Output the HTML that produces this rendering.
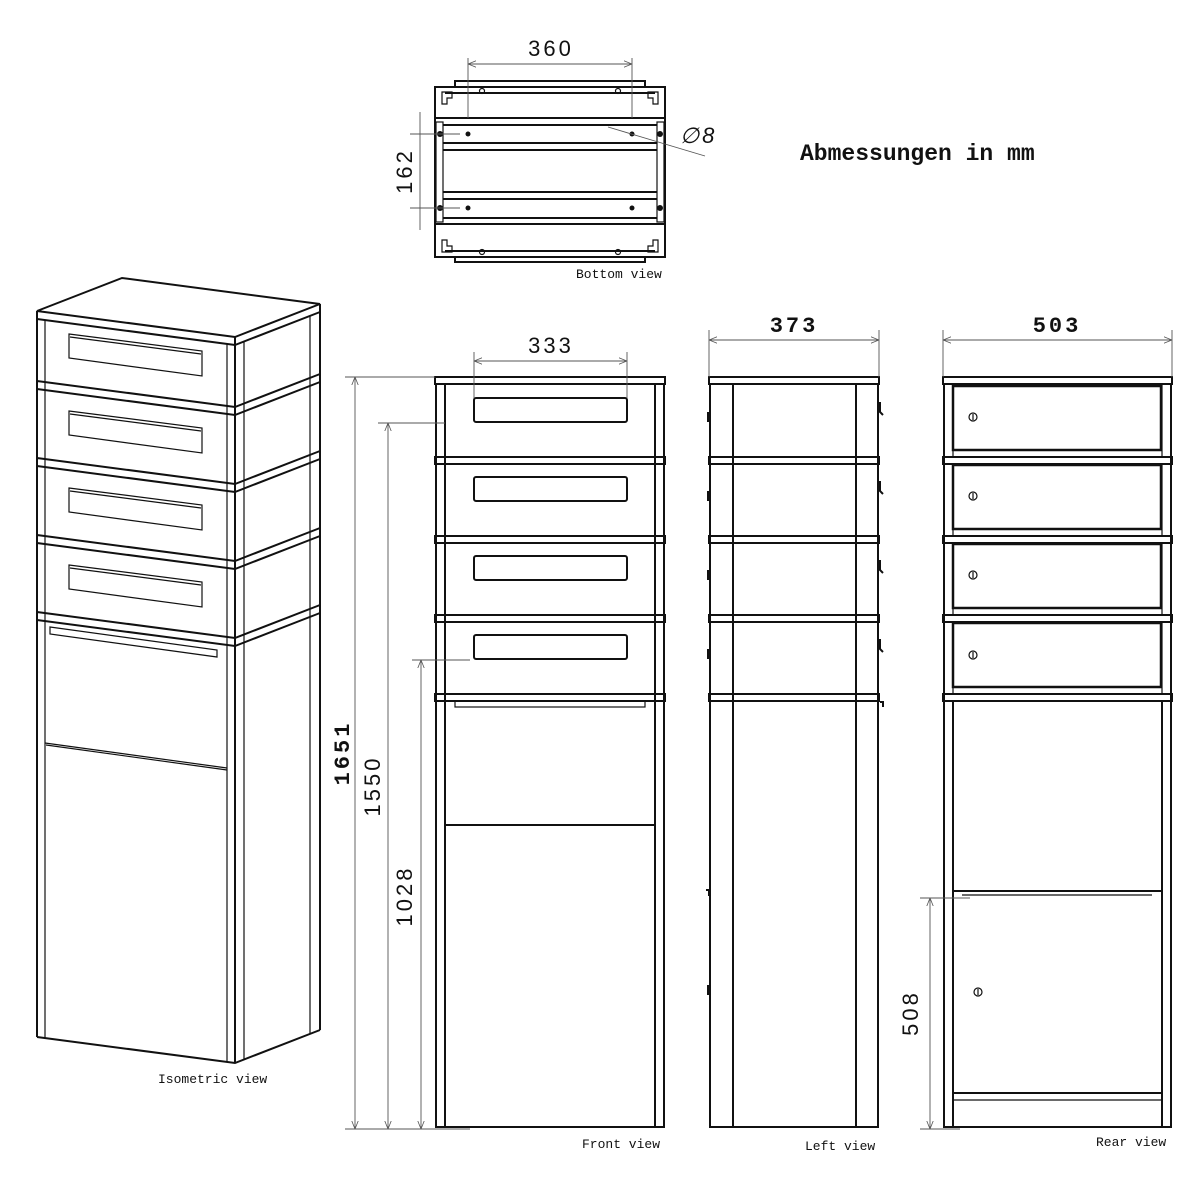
<!DOCTYPE html>
<html><head><meta charset="utf-8"><style>
html,body{margin:0;padding:0;background:#fff}
svg{display:block}
.m{fill:none;stroke:#111;stroke-width:2}
.t{fill:none;stroke:#111;stroke-width:1.2}
.d{fill:none;stroke:#555;stroke-width:0.9}
.num{font-family:"Liberation Sans",sans-serif;font-size:22px;letter-spacing:3px;fill:#111}
.b{font-weight:bold;font-family:"Liberation Mono",monospace}
.lab{font-family:"Liberation Mono",monospace;font-size:13px;fill:#111}
</style></head><body>
<svg width="1200" height="1200" viewBox="0 0 1200 1200" xmlns="http://www.w3.org/2000/svg">
<defs>
<marker id="a" viewBox="0 0 10 10" refX="10" refY="5" markerWidth="9" markerHeight="9" orient="auto-start-reverse"><path d="M0,1 L10,5 L0,9" fill="none" stroke="#555" stroke-width="1"/></marker>
</defs>

<!-- ===== Bottom view ===== -->
<rect class="m" x="435" y="87" width="230" height="170"/>
<rect class="m" x="455" y="81" width="190" height="6"/>
<rect class="m" x="455" y="257" width="190" height="5"/>
<line class="m" x1="445" y1="93" x2="655" y2="93"/>
<line class="m" x1="445" y1="251" x2="655" y2="251"/>
<line class="m" x1="435" y1="118" x2="665" y2="118"/>
<line class="m" x1="443" y1="125" x2="657" y2="125"/>
<line class="m" x1="443" y1="143" x2="657" y2="143"/>
<line class="m" x1="443" y1="150" x2="657" y2="150"/>
<line class="m" x1="443" y1="192" x2="657" y2="192"/>
<line class="m" x1="443" y1="199" x2="657" y2="199"/>
<line class="m" x1="443" y1="218" x2="657" y2="218"/>
<line class="m" x1="435" y1="224" x2="665" y2="224"/>
<rect class="t" x="436" y="122" width="7" height="100"/>
<rect class="t" x="657" y="122" width="7" height="100"/>
<g fill="#111">
<circle cx="468" cy="134" r="2.5"/><circle cx="632" cy="134" r="2.5"/>
<circle cx="468" cy="208" r="2.5"/><circle cx="632" cy="208" r="2.5"/>
<circle cx="440" cy="134" r="3"/><circle cx="660" cy="134" r="3"/>
<circle cx="440" cy="208" r="3"/><circle cx="660" cy="208" r="3"/>
</g>
<g class="t"><circle cx="482" cy="91" r="2.5"/><circle cx="618" cy="91" r="2.5"/><circle cx="482" cy="252" r="2.5"/><circle cx="618" cy="252" r="2.5"/>
<path d="M442,92 h10 v6 h-5 v6 h-5z M658,92 h-10 v6 h5 v6 h5z M442,252 h10 v-6 h-5 v-6 h-5z M658,252 h-10 v-6 h5 v-6 h5z"/></g>
<line class="d" x1="468" y1="64" x2="632" y2="64" marker-start="url(#a)" marker-end="url(#a)"/>
<line class="d" x1="468" y1="58" x2="468" y2="118"/>
<line class="d" x1="632" y1="58" x2="632" y2="118"/>
<text class="num" x="551" y="56" text-anchor="middle">360</text>
<line class="d" x1="420" y1="112" x2="420" y2="230"/>
<line class="d" x1="410" y1="134" x2="460" y2="134"/>
<line class="d" x1="410" y1="208" x2="460" y2="208"/>
<text class="num" transform="translate(412,171) rotate(-90)" text-anchor="middle">162</text>
<line class="d" x1="608" y1="127" x2="705" y2="156"/>
<text class="num" x="680" y="143" font-style="italic" letter-spacing="2">∅8</text>
<text class="lab" x="576" y="278">Bottom view</text>
<text class="b" x="800" y="160" font-size="23" fill="#111">Abmessungen in mm</text>

<!-- ===== Isometric view ===== -->
<g class="m">
<path d="M37,311 L235,337 L320,304 L122,278 Z"/>
<path d="M37,311 V319 L235,345 L320,312 V304 M235,337 V345"/>
<path d="M37,381 L235,407 L320,374 M37,389 L235,415 L320,382 M37,381 V389 M320,374 V382"/>
<path d="M37,458 L235,484 L320,451 M37,466 L235,492 L320,459 M37,458 V466 M320,451 V459"/>
<path d="M37,535 L235,561 L320,528 M37,543 L235,569 L320,536 M37,535 V543 M320,528 V536"/>
<path d="M37,612 L235,638 L320,605 M37,620 L235,646 L320,613 M37,612 V620 M320,605 V613"/>
<path d="M37,319 V1037 M235,345 V1063 M320,312 V1030 M37,1037 L235,1063 L320,1030"/>
</g>
<g class="t">
<path d="M45,320 V1038 M227,344 V1062 M244,342 V1060 M310,316 V1034"/>
<path d="M69,334 L202,351 V376 L69,358 Z M70,337 L201,354"/>
<path d="M69,411 L202,428 V453 L69,435 Z M70,414 L201,431"/>
<path d="M69,488 L202,505 V530 L69,512 Z M70,491 L201,508"/>
<path d="M69,565 L202,582 V607 L69,589 Z M70,568 L201,585"/>
<path d="M50,627 L217,650 V657 L50,634 Z"/>
<path d="M45,743 L227,768"/>
<path d="M46,745 L227,770"/>
</g>
<text class="lab" x="158" y="1083">Isometric view</text>

<!-- ===== Front view ===== -->
<g class="m">
<rect x="435" y="377" width="230" height="7"/>
<rect x="435" y="457" width="230" height="7"/>
<rect x="435" y="536" width="230" height="7"/>
<rect x="435" y="615" width="230" height="7"/>
<rect x="435" y="694" width="230" height="7"/>
<path d="M436,384 V1127 H664 V384 M445,384 V1127 M655,384 V1127"/>
<rect x="474" y="398" width="153" height="24" rx="2"/>
<rect x="474" y="477" width="153" height="24" rx="2"/>
<rect x="474" y="556" width="153" height="24" rx="2"/>
<rect x="474" y="635" width="153" height="24" rx="2"/>
<rect x="445" y="701" width="210" height="124"/>
</g>
<rect class="t" x="455" y="701" width="190" height="6"/>
<line class="d" x1="474" y1="352" x2="474" y2="398"/>
<line class="d" x1="627" y1="352" x2="627" y2="398"/>
<line class="d" x1="474" y1="361" x2="627" y2="361" marker-start="url(#a)" marker-end="url(#a)"/>
<text class="num" x="551" y="353" text-anchor="middle">333</text>
<text class="lab" x="582" y="1148">Front view</text>

<!-- dims left -->
<line class="d" x1="345" y1="377" x2="435" y2="377"/>
<line class="d" x1="378" y1="423" x2="445" y2="423"/>
<line class="d" x1="412" y1="660" x2="470" y2="660"/>
<line class="d" x1="345" y1="1129" x2="470" y2="1129"/>
<line class="d" x1="355" y1="377" x2="355" y2="1129" marker-start="url(#a)" marker-end="url(#a)"/>
<line class="d" x1="388" y1="423" x2="388" y2="1129" marker-start="url(#a)" marker-end="url(#a)"/>
<line class="d" x1="421" y1="660" x2="421" y2="1129" marker-start="url(#a)" marker-end="url(#a)"/>
<text class="num b" transform="translate(349,753) rotate(-90)" text-anchor="middle" font-size="22">1651</text>
<text class="num" transform="translate(380,786) rotate(-90)" text-anchor="middle">1550</text>
<text class="num" transform="translate(412,896) rotate(-90)" text-anchor="middle">1028</text>

<!-- ===== Left view ===== -->
<g class="m">
<rect x="709" y="377" width="170" height="7"/>
<rect x="709" y="457" width="170" height="7"/>
<rect x="709" y="536" width="170" height="7"/>
<rect x="709" y="615" width="170" height="7"/>
<rect x="709" y="694" width="170" height="7"/>
<path d="M710,384 V1127 H878 V384 M733,384 V1127 M856,384 V1127"/>
<path d="M708,412 v10 M708,491 v10 M708,570 v10 M708,649 v10 M708,985 v10 M706,890 h3 v6"/>
<path d="M880,402 v10 l3,3 M880,481 v10 l3,3 M880,560 v10 l3,3 M880,639 v10 l3,3 M880,702 h3 v5"/>
</g>
<line class="d" x1="709" y1="330" x2="709" y2="377"/>
<line class="d" x1="879" y1="330" x2="879" y2="377"/>
<line class="d" x1="709" y1="340" x2="879" y2="340" marker-start="url(#a)" marker-end="url(#a)"/>
<text class="num b" x="794" y="332" text-anchor="middle" font-size="22">373</text>
<text class="lab" x="805" y="1150">Left view</text>

<!-- ===== Rear view ===== -->
<g class="m">
<rect x="943" y="377" width="229" height="7"/>
<rect x="943" y="457" width="229" height="7"/>
<rect x="943" y="536" width="229" height="7"/>
<rect x="943" y="615" width="229" height="7"/>
<rect x="943" y="694" width="229" height="7"/>
<path d="M944,384 V1127 H1171 V384"/>
<path d="M953,701 V1127 M1162,701 V1127"/>
<rect x="953" y="386" width="208" height="64" stroke-width="2.5"/>
<rect x="953" y="465" width="208" height="64" stroke-width="2.5"/>
<rect x="953" y="544" width="208" height="64" stroke-width="2.5"/>
<rect x="953" y="623" width="208" height="64" stroke-width="2.5"/>
<rect x="953" y="891" width="209" height="202"/>
</g>
<g class="t">
<path d="M953,384 V457 M1162,384 V457 M953,464 V536 M1162,464 V536 M953,543 V615 M1162,543 V615 M953,622 V694 M1162,622 V694"/>
<path d="M953,1100 H1162 M962,895 H1152"/>
<circle cx="973" cy="417" r="4"/><circle cx="973" cy="496" r="4"/><circle cx="973" cy="575" r="4"/><circle cx="973" cy="655" r="4"/><circle cx="978" cy="992" r="4"/>
<path d="M973,414 v6 M973,493 v6 M973,572 v6 M973,652 v6 M978,989 v6"/>
</g>
<line class="d" x1="943" y1="330" x2="943" y2="377"/>
<line class="d" x1="1172" y1="330" x2="1172" y2="377"/>
<line class="d" x1="943" y1="340" x2="1172" y2="340" marker-start="url(#a)" marker-end="url(#a)"/>
<text class="num b" x="1057" y="332" text-anchor="middle" font-size="22">503</text>
<line class="d" x1="920" y1="898" x2="970" y2="898"/>
<line class="d" x1="920" y1="1129" x2="960" y2="1129"/>
<line class="d" x1="930" y1="898" x2="930" y2="1129" marker-start="url(#a)" marker-end="url(#a)"/>
<text class="num" transform="translate(918,1013) rotate(-90)" text-anchor="middle">508</text>
<text class="lab" x="1096" y="1146">Rear view</text>
</svg>
</body></html>
